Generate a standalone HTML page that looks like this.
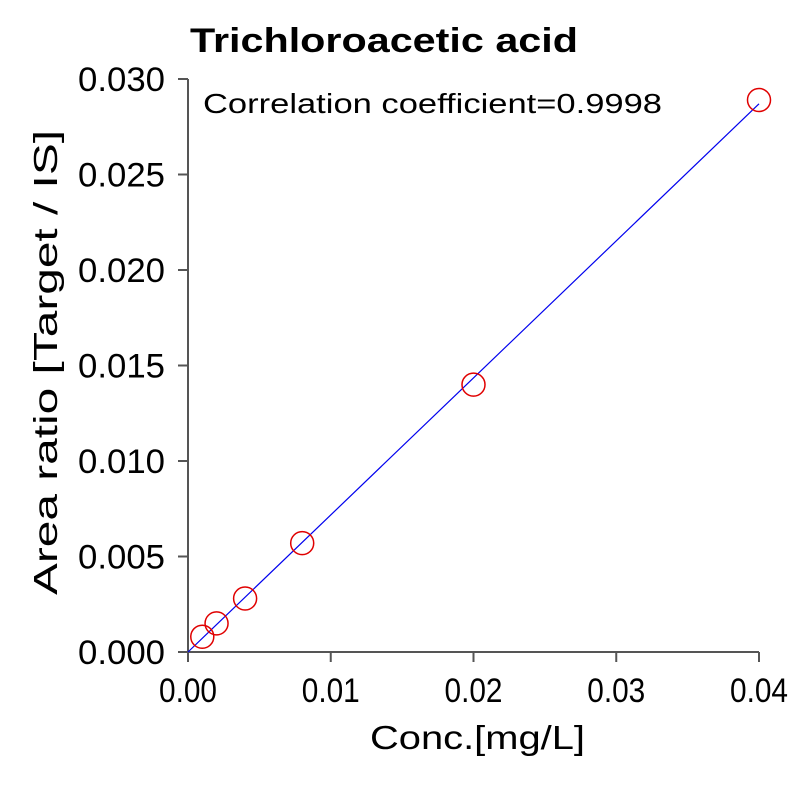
<!DOCTYPE html>
<html><head><meta charset="utf-8"><style>
body{margin:0;background:#fff}
svg text{font-family:"Liberation Sans",sans-serif}
</style></head><body>
<svg id="chart" width="803" height="783" xmlns="http://www.w3.org/2000/svg">
<text x="190" y="52" font-size="34" font-weight="bold" textLength="388" lengthAdjust="spacingAndGlyphs">Trichloroacetic acid</text>
<text x="203" y="113" font-size="28" textLength="459" lengthAdjust="spacingAndGlyphs">Correlation coefficient=0.9998</text>
<text x="370" y="749" font-size="33" textLength="215" lengthAdjust="spacingAndGlyphs">Conc.[mg/L]</text>
<text transform="translate(57,595) rotate(-90)" font-size="33" textLength="465" lengthAdjust="spacingAndGlyphs">Area ratio [Target / IS]</text>
<g id="axes"></g>
<g id="marks"></g>
</svg>
<script>
const xTicks=[0,0.01,0.02,0.03,0.04];
const xTickLabels=["0.00","0.01","0.02","0.03","0.04"];
const yTicks=[0,0.005,0.010,0.015,0.020,0.025,0.030];
const yTickLabels=["0.000","0.005","0.010","0.015","0.020","0.025","0.030"];
const concValues=[0.001,0.002,0.004,0.008,0.02,0.04];
const ratioValues=[0.0008,0.0015,0.0028,0.0057,0.0140,0.0289];
const fitSlope=0.7175, fitIntercept=0;
const X0=188,X1=759,Y0=652,Y1=79;
const xs=v=>X0+(v-0)/(0.04)*(X1-X0);
const ys=v=>Y0-(v-0)/(0.03)*(Y0-Y1);
const NS="http://www.w3.org/2000/svg";
const axes=document.getElementById('axes'), marks=document.getElementById('marks');
function mk(tag,attrs,parent){const e=document.createElementNS(NS,tag);for(const k in attrs)e.setAttribute(k,attrs[k]);parent.appendChild(e);return e;}
let ax=mk('line',{x1:X0,y1:Y0,x2:X1,y2:Y0,stroke:'#555','stroke-width':2},axes);


let ay=mk('line',{x1:X0,y1:Y0,x2:X0,y2:Y1,stroke:'#555','stroke-width':2},axes);


xTicks.forEach((t,i)=>{
 const x=xs(t);
 const l=mk('line',{x1:x,y1:Y0,x2:x,y2:Y0+10,stroke:'#555','stroke-width':2},axes);
 
 
 const tx=mk('text',{x:x-29,y:Y0+50,'font-size':34,textLength:58,lengthAdjust:'spacingAndGlyphs'},axes);
 tx.textContent=xTickLabels[i];
 
 
});
yTicks.forEach((t,i)=>{
 const y=ys(t);
 const l=mk('line',{x1:X0-10,y1:y,x2:X0,y2:y,stroke:'#555','stroke-width':2},axes);
 
 
 const tx=mk('text',{x:78,y:y+12,'font-size':34,textLength:87,lengthAdjust:'spacingAndGlyphs'},axes);
 tx.textContent=yTickLabels[i];
 
 
});
const fit=mk('line',{x1:xs(0),y1:ys(fitIntercept),x2:xs(0.04),y2:ys(fitIntercept+fitSlope*0.04),stroke:'#0000ee','stroke-width':1.2},marks);


concValues.forEach((c,i)=>{
 const p=mk('circle',{cx:xs(c),cy:ys(ratioValues[i]),r:11.5,fill:'none',stroke:'#e00000','stroke-width':1.5},marks);
 
 
});
</script>
</body></html>
